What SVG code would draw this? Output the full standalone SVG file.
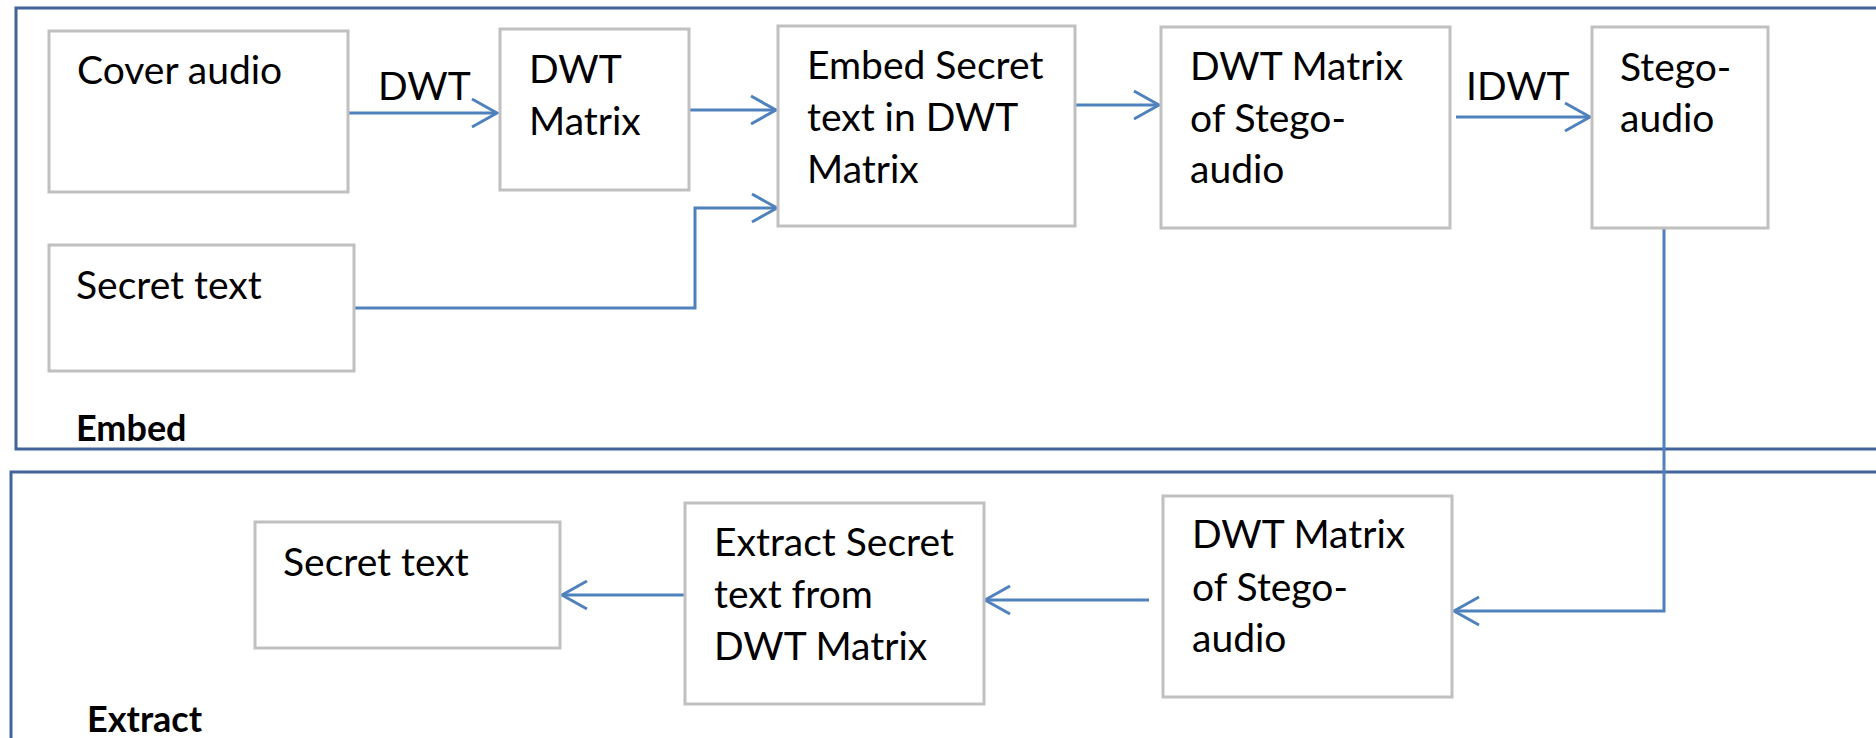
<svg xmlns="http://www.w3.org/2000/svg" width="1876" height="738" viewBox="0 0 1876 738">
  <style>
    .frame { fill: none; stroke: #41649a; stroke-width: 3; }
    .box { fill: #ffffff; stroke: #c0c0c0; stroke-width: 3; }
    .lbl { font-family: Lato, "Liberation Sans", sans-serif; font-size: 39px; fill: #000000; }
    .title { font-family: Lato, "Liberation Sans", sans-serif; font-size: 36px; font-weight: bold; fill: #000000; }
    .link { fill: none; stroke: #4f81bd; stroke-width: 3; }
  </style>
  <defs>
    <marker id="arrow" markerUnits="userSpaceOnUse" viewBox="-28 -17 31 34" markerWidth="31" markerHeight="34" refX="0" refY="0" orient="auto">
      <path d="M-25,-14 L0,0 L-25,14" fill="none" stroke="#4f81bd" stroke-width="3"/>
    </marker>
  </defs>

  <rect width="1876" height="738" fill="#ffffff"/>

  <!-- section frames -->
  <g id="embed-frame">
    <rect class="frame" x="16" y="8" width="1880" height="441"/>
    <text class="title" x="76" y="441">Embed</text>
  </g>
  <g id="extract-frame">
    <rect class="frame" x="11" y="472" width="1880" height="300"/>
    <text class="title" x="87" y="732">Extract</text>
  </g>

  <!-- connectors -->
  <g id="connectors">
    <path class="link" d="M348,113 H497" marker-end="url(#arrow)"/>
    <text class="lbl" x="378" y="100">DWT</text>
    <path class="link" d="M689,110 H776" marker-end="url(#arrow)"/>
    <path class="link" d="M354,308 H695 V208 H777" marker-end="url(#arrow)"/>
    <path class="link" d="M1075,105 H1159" marker-end="url(#arrow)"/>
    <path class="link" d="M1456,117 H1590" marker-end="url(#arrow)"/>
    <text class="lbl" x="1466" y="100">IDWT</text>
    <path class="link" d="M1664,228 V611 H1454" marker-end="url(#arrow)"/>
    <path class="link" d="M1149,600 H985" marker-end="url(#arrow)"/>
    <path class="link" d="M685,595 H562" marker-end="url(#arrow)"/>
  </g>

  <!-- embed stage -->
  <g id="cover-audio">
    <rect class="box" x="49" y="31" width="299" height="161"/>
    <text class="lbl" x="77" y="84">Cover audio</text>
  </g>
  <g id="secret-text-in">
    <rect class="box" x="49" y="245" width="305" height="126"/>
    <text class="lbl" x="76" y="299">Secret text</text>
  </g>
  <g id="dwt-matrix">
    <rect class="box" x="500" y="29" width="189" height="161"/>
    <text class="lbl" x="529" y="83">DWT</text>
    <text class="lbl" x="529" y="135">Matrix</text>
  </g>
  <g id="embed-secret">
    <rect class="box" x="778" y="26" width="297" height="200"/>
    <text class="lbl" x="807" y="79">Embed Secret</text>
    <text class="lbl" x="807" y="131">text in DWT</text>
    <text class="lbl" x="807" y="183">Matrix</text>
  </g>
  <g id="dwt-stego">
    <rect class="box" x="1161" y="27" width="289" height="201"/>
    <text class="lbl" x="1190" y="80">DWT Matrix</text>
    <text class="lbl" x="1190" y="132">of Stego-</text>
    <text class="lbl" x="1190" y="183">audio</text>
  </g>
  <g id="stego-audio">
    <rect class="box" x="1592" y="27" width="176" height="201"/>
    <text class="lbl" x="1620" y="81">Stego-</text>
    <text class="lbl" x="1620" y="132">audio</text>
  </g>

  <!-- extract stage -->
  <g id="dwt-stego-out">
    <rect class="box" x="1163" y="496" width="289" height="201"/>
    <text class="lbl" x="1192" y="548">DWT Matrix</text>
    <text class="lbl" x="1192" y="601">of Stego-</text>
    <text class="lbl" x="1192" y="652">audio</text>
  </g>
  <g id="extract-secret">
    <rect class="box" x="685" y="503" width="299" height="201"/>
    <text class="lbl" x="714" y="556">Extract Secret</text>
    <text class="lbl" x="714" y="608">text from</text>
    <text class="lbl" x="714" y="660">DWT Matrix</text>
  </g>
  <g id="secret-text-out">
    <rect class="box" x="255" y="522" width="305" height="126"/>
    <text class="lbl" x="283" y="576">Secret text</text>
  </g>
</svg>
